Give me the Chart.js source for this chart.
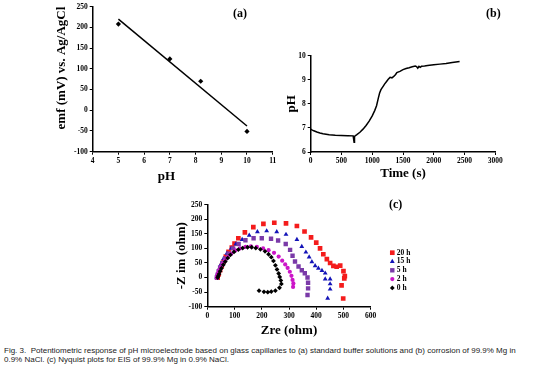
<!DOCTYPE html>
<html>
<head>
<meta charset="utf-8">
<script src="https://cdn.jsdelivr.net/npm/chart.js@4/dist/chart.umd.min.js"></script>
<style>
  body { margin: 0; background: #fff; width: 554px; height: 375px; position: relative; overflow: hidden; }
  canvas { position: absolute; }
  .tag { position: absolute; font: bold 12px 'Liberation Serif', serif; color: #000; }
  #caption { position: absolute; left: 4px; top: 347px; font: 8px 'Liberation Sans', Arial, sans-serif; line-height: 8.6px; color: #222; white-space: nowrap; }
</style>
</head>
<body>
<canvas id="graficoCalibracion" width="250" height="195" style="left:40px;top:0px"></canvas>
<canvas id="graficoCorrosion" width="274" height="195" style="left:280px;top:0px"></canvas>
<canvas id="graficoNyquist" width="260" height="150" style="left:160px;top:190px"></canvas>
<div class="tag" style="left:233px;top:6px">(a)</div>
<div class="tag" style="left:486px;top:6px">(b)</div>
<div class="tag" style="left:389px;top:197px">(c)</div>
<div id="caption">Fig. 3.&nbsp; Potentiometric response of pH microelectrode based on glass capillaries to (a) standard buffer solutions and (b) corrosion of 99.9% Mg in<br>0.9% NaCl. (c) Nyquist plots for EIS of 99.9% Mg in 0.9% NaCl.</div>
<script>
// (a) calibracion con soluciones tampon
const phBuffer = [5, 7, 8.2, 10];
const emfBuffer = [208, 124, 70, -51];
const phFit = [5, 10];
const emfFit = [220, -38];

// (b) pH durante la corrosion
const timeS = [0, 20, 50, 100, 150, 200, 250, 300, 400, 500, 600, 690, 700, 705, 712, 750, 800, 850, 900, 950,
  1000, 1040, 1070, 1100, 1120, 1140, 1160, 1180, 1200, 1230, 1260, 1290, 1320, 1350, 1380, 1400, 1450, 1500,
  1550, 1600, 1650, 1700, 1720, 1740, 1760, 1780, 1800, 1850, 1900, 2000, 2100, 2200, 2300, 2420];
const phTime = [6.95, 6.92, 6.88, 6.83, 6.79, 6.76, 6.74, 6.72, 6.7, 6.69, 6.68, 6.67, 6.67, 6.4, 6.65, 6.72, 6.82, 6.95, 7.1, 7.28,
  7.5, 7.72, 7.92, 8.25, 8.45, 8.58, 8.66, 8.74, 8.82, 8.92, 9.02, 9.1, 9.08, 9.14, 9.22, 9.3, 9.35, 9.42,
  9.47, 9.5, 9.54, 9.57, 9.55, 9.48, 9.56, 9.52, 9.56, 9.57, 9.59, 9.62, 9.65, 9.68, 9.72, 9.76];

// (c) Nyquist
const zre20 = [38, 42, 47, 53, 60, 68, 78, 90, 100, 114, 138, 169, 206, 246, 289, 329, 357, 381, 400, 414, 426, 439, 451, 463, 475, 488, 500, 505, 503, 493, 499];
const zim20 = [0, 12, 25, 40, 55, 72, 88, 103, 117, 135, 155, 173, 184, 188, 186, 177, 158, 138, 120, 100, 80, 63, 50, 40, 37, 41, 22, 5, -3, -27, -72];
const zre15 = [35, 38, 43, 50, 60, 72, 88, 105, 128, 154, 184, 218, 255, 289, 329, 347, 362, 374, 384, 396, 408, 421, 433, 433, 451, 451, 451, 442];
const zim15 = [0, 12, 28, 45, 65, 83, 100, 115, 130, 145, 157, 160, 157, 148, 130, 106, 87, 70, 54, 40, 32, 24, 15, -5, -5, -22, -40, -71];
const zre5 = [35, 38, 42, 47, 55, 65, 78, 95, 115, 140, 170, 200, 234, 260, 288, 304, 313, 322, 335, 347, 358, 368, 370, 370, 368];
const zim5 = [0, 10, 22, 35, 50, 65, 82, 100, 115, 128, 135, 135, 133, 127, 115, 95, 75, 55, 38, 25, 15, 0, -18, -37, -60];
const zre2 = [35, 37, 40, 44, 50, 57, 65, 75, 88, 103, 120, 140, 160, 182, 205, 225, 245, 262, 275, 286, 295, 303, 309, 313, 316, 315];
const zim2 = [0, 8, 15, 25, 35, 47, 58, 70, 82, 93, 100, 105, 107, 105, 100, 94, 85, 72, 58, 45, 33, 20, 6, -8, -20, -32];
const zre0 = [38, 40, 43, 47, 52, 59, 66, 75, 85, 98, 114, 130, 148, 163, 178, 195, 212, 225, 235, 243, 250, 256, 262, 266, 270, 272, 265, 250, 235, 222, 208, 190];
const zim0 = [0, 5, 12, 22, 32, 44, 55, 67, 78, 88, 96, 101, 104, 104, 101, 97, 90, 80, 70, 57, 42, 28, 14, 2, -10, -22, -35, -45, -48, -50, -49, -45];

function pts(xs, ys) { return xs.map((x, i) => ({x: x, y: ys[i]})); }
function fixW(w) { return s => { s.width = w; }; }
function fixH(h) { return s => { s.height = h; }; }

Chart.defaults.font.family = "'Liberation Serif', 'Times New Roman', serif";
Chart.defaults.color = '#000';
Chart.defaults.animation = false;

const tickFont = {size: 7.5, weight: 'bold'};
const titleFont = {size: 13, weight: 'bold'};
const grid = {drawOnChartArea: false, drawTicks: true, tickLength: 3, color: '#000', lineWidth: 1};
const border = {color: '#000', width: 1.5};

function axis(min, max, step, title, titlePad, extra) {
  return Object.assign({
    type: 'linear', min: min, max: max,
    ticks: {stepSize: step, font: tickFont, color: '#000', padding: 2, callback: v => String(v)},
    grid: grid, border: border,
    title: {display: true, text: title, font: titleFont, color: '#000', padding: titlePad}
  }, extra);
}

const base = {responsive: false, devicePixelRatio: 1, plugins: {legend: {display: false}, tooltip: {enabled: false}}};

// (a)
const ejeYa = axis(-100, 250, 50, 'emf (mV) vs. Ag/AgCl', {top: 14.2, bottom: 0}, {afterFit: fixW(52.7)});
ejeYa.title.align = 'end';
new Chart(document.getElementById('graficoCalibracion').getContext('2d'), {
  type: 'scatter',
  data: {
    datasets: [
      {data: pts(phBuffer, emfBuffer), pointStyle: 'rectRot', pointRadius: 2.6, backgroundColor: '#000', borderColor: '#000', borderWidth: 0},
      {data: pts(phFit, emfFit), showLine: true, pointRadius: 0, borderColor: '#000', borderWidth: 1.5}
    ]
  },
  options: Object.assign({}, base, {
    layout: {padding: {top: 6.7, right: 17.3, left: 0, bottom: 0}},
    scales: {
      x: axis(4, 11, 1, 'pH' + '\u00a0'.repeat(10), {top: 0, bottom: 10.2}, {afterFit: fixH(43.3)}),
      y: ejeYa
    }
  })
});

// (b)
new Chart(document.getElementById('graficoCorrosion').getContext('2d'), {
  type: 'scatter',
  data: {
    datasets: [
      {data: pts(timeS, phTime), showLine: true, pointRadius: 0, borderColor: '#000', borderWidth: 1.5, tension: 0}
    ]
  },
  options: Object.assign({}, base, {
    layout: {padding: {top: 55.7, right: 58.7, left: 0, bottom: 0}},
    scales: {
      x: axis(0, 3000, 500, 'Time (s)', {top: 0, bottom: 13.2}, {afterFit: fixH(43)}),
      y: axis(6, 10, 1, 'pH', {top: 3.9, bottom: 0}, {afterFit: fixW(30.7)})
    }
  })
});

// (c)
const legendOrder = [4, 3, 2, 1, 0];
const nyquistLegend = {
  id: 'nyquistLegend',
  afterDraw(chart) {
    const {ctx, chartArea} = chart;
    const x = chartArea.right + 21.6;
    let y = chartArea.top + 48;
    ctx.save();
    ctx.font = "bold 7.5px 'Liberation Serif', serif";
    ctx.textBaseline = 'middle';
    legendOrder.forEach(i => {
      const ds = chart.data.datasets[i];
      ctx.fillStyle = ds.backgroundColor;
      ctx.strokeStyle = ds.backgroundColor;
      Chart.helpers.drawPoint(ctx, {pointStyle: ds.pointStyle, radius: ds.pointRadius, borderWidth: 0}, x, y);
      ctx.fillStyle = '#000';
      ctx.fillText(ds.label, x + 4.5, y);
      y += 8.8;
    });
    ctx.restore();
  }
};

function serie(label, xs, ys, color, style, r) {
  return {label: label, data: pts(xs, ys), backgroundColor: color, borderColor: color, borderWidth: 0, pointStyle: style, pointRadius: r};
}

new Chart(document.getElementById('graficoNyquist').getContext('2d'), {
  type: 'scatter',
  data: {
    datasets: [
      serie('0 h', zre0, zim0, '#000000', 'rectRot', 2.4),
      serie('2 h', zre2, zim2, '#cc16c8', 'circle', 2.1),
      serie('5 h', zre5, zim5, '#7a3aa8', 'rect', 3.1),
      serie('15 h', zre15, zim15, '#1414b8', 'triangle', 2.8),
      serie('20 h', zre20, zim20, '#f41c1c', 'rect', 3.3)
    ]
  },
  options: Object.assign({}, base, {
    layout: {padding: {top: 14.7, right: 49.3, left: 0, bottom: 0}},
    scales: {
      x: axis(0, 600, 100, 'Zre (ohm)', {top: 0, bottom: 1.2}, {afterFit: fixH(33.3)}),
      y: axis(-100, 250, 50, '-Z im (ohm)', {top: 13.9, bottom: 0}, {afterFit: fixW(47.3)})
    }
  }),
  plugins: [nyquistLegend]
});
</script>
</body>
</html>
